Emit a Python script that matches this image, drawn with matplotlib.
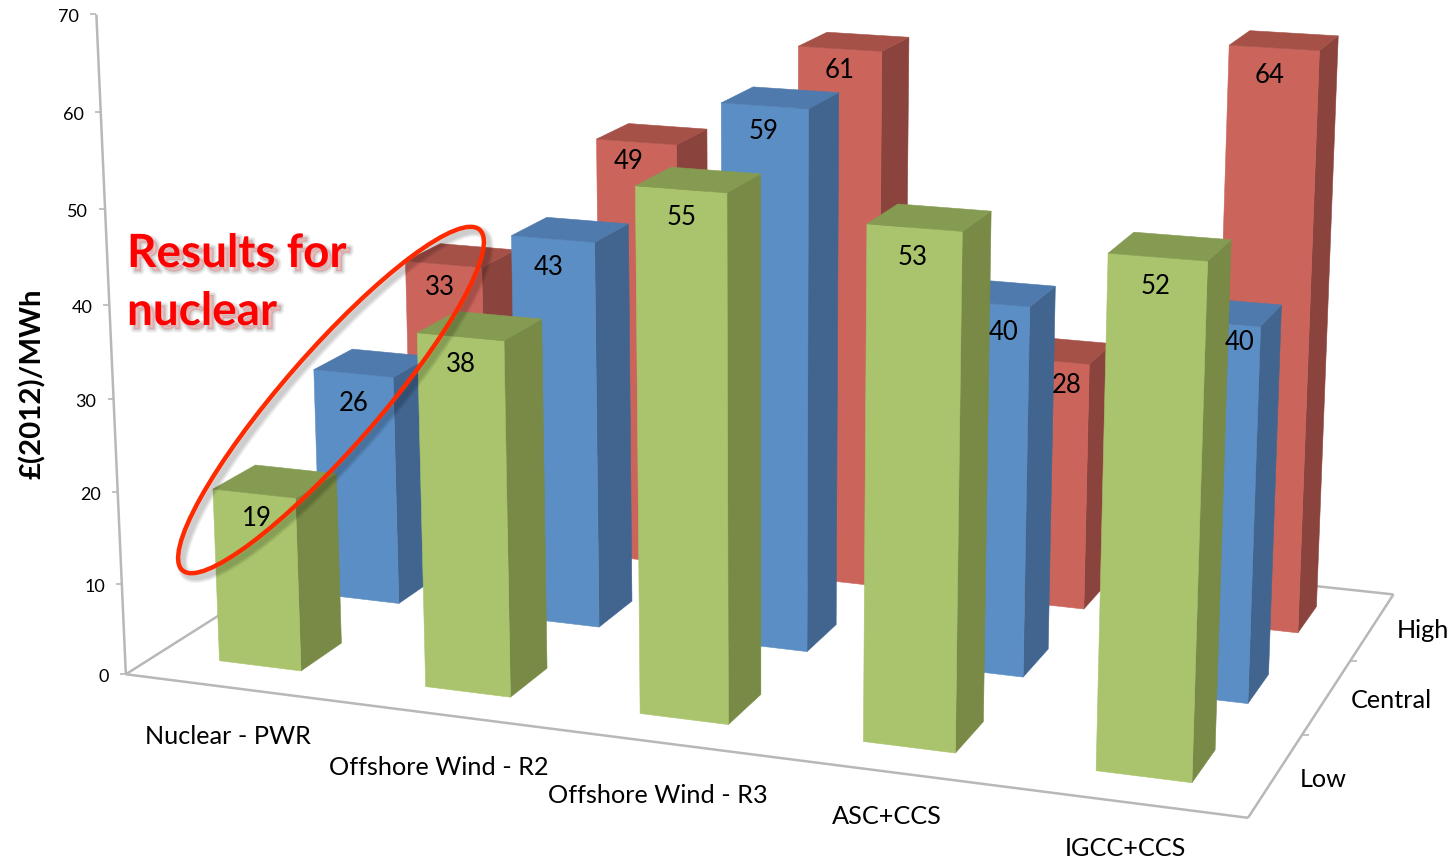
import numpy as np
import matplotlib
matplotlib.use('Agg')
import matplotlib.pyplot as plt
from matplotlib.patches import Ellipse
import matplotlib.patheffects as pe

plt.rcParams['font.family'] = ['Lato', 'DejaVu Sans']

categories = ['Nuclear - PWR', 'Offshore Wind - R2', 'Offshore Wind - R3', 'ASC+CCS', 'IGCC+CCS']
cases = ['Low', 'Central', 'High']
low = [19, 38, 55, 53, 52]
central = [26, 43, 59, 40, 40]
high = [33, 49, 61, 28, 64]
z_ticks = [0, 10, 20, 30, 40, 50, 60, 70]

# perspective view, (category, case, value) -> canvas pixels
camera = np.array([
    [199.97288930, 119.89630745, -0.48168194, 125.84706758],
    [12.67998954, -34.67101876, -9.43458566, 674.25528060],
    [-0.01960224, 0.05466371, -0.00062883, 1.00000000],
])


def project(x, y, z):
    h = camera @ np.array([x, y, z, 1.0])
    return h[0] / h[2], h[1] / h[2]


bar_gap = 0.3
front_colors = ['#A9C46C', '#5B8EC4', '#CB655B']
top_colors = ['#869B52', '#4F7AAD', '#A65148']
side_colors = ['#788A46', '#41658F', '#8B443D']
axis_color = '#B8B8B8'

# small hand placement of the value labels, one row per case
label_nudge = [
    [(2, 1), (0, 3), (0, 2), (-2, 3), (-1, 2)],
    [(0, 7), (-5, 5), (-1, 1), (19, 5), (27, -5)],
    [(-4, 1), (-8, -3), (0, -2), (20, 2), (-4, 3)],
]
category_drop = [49, 53, 53, 45, 46]

fig = plt.figure(figsize=(14.5, 8.61), dpi=100)
ax = fig.add_axes([0, 0, 1, 1])
ax.set_xlim(0, 1450)
ax.set_ylim(861, 0)
ax.axis('off')


def line(p, q, lw=1.8):
    ax.plot(*zip(p, q), color=axis_color, lw=lw, solid_capstyle='butt', zorder=1)


# floor outline and axes
line(project(0, 0, 0), project(5, 0, 0))
line(project(5, 0, 0), project(5, 3, 0))
line(project(5, 3, 0), project(0, 3, 0))
line(project(0, 3, 0), project(0, 0, 0))
line(project(0, 0, 0), project(0, 0, 70))

for t in z_ticks:
    px, py = project(0, 0, t)
    line((px - 6, py), (px, py), lw=1.2)
    ax.text(px - 17, py + 3, str(t), ha='right', va='center', fontsize=13, color='black')

for j in range(1, 3):
    px, py = project(5, j, 0)
    line((px, py), (px + 7, py), lw=1.2)

rows = [low, central, high]


def face(points, color, z):
    ax.fill([p[0] for p in points], [p[1] for p in points], facecolor=color,
            edgecolor=color, lw=0.4, zorder=z)


# back row first, left to right, so nearer bars cover the ones behind
order = 10
for j in [2, 1, 0]:
    for i, value in enumerate(rows[j]):
        x0, x1 = i + bar_gap, i + 1 - bar_gap
        y0, y1 = j + bar_gap, j + 1 - bar_gap
        face([project(x1, y0, 0), project(x1, y1, 0), project(x1, y1, value), project(x1, y0, value)],
             side_colors[j], order)
        face([project(x0, y0, 0), project(x1, y0, 0), project(x1, y0, value), project(x0, y0, value)],
             front_colors[j], order)
        face([project(x0, y0, value), project(x1, y0, value), project(x1, y1, value), project(x0, y1, value)],
             top_colors[j], order)
        order += 1

for j in range(3):
    for i, value in enumerate(rows[j]):
        px, py = project(i + 0.5, j + bar_gap, value - 2.6)
        dx, dy = label_nudge[j][i]
        ax.text(px + dx, py + dy, str(value), ha='center', va='center', fontsize=18.5,
                color='black', zorder=40)

for i, name in enumerate(categories):
    px, py = project(i + 0.5, 0, 0)
    ax.text(px, py + category_drop[i], name, ha='center', va='center', fontsize=18.2, color='black')

for j, name in enumerate(cases):
    px, py = project(5, j + 0.5, 0)
    ax.text(px + 24, py + 4, name, ha='left', va='center', fontsize=18.2, color='black')

ax.text(32, 384, '£(2012)/MWh', rotation=90, ha='center', va='center', fontsize=21.2,
        fontweight='bold', color='black')


def soft_shadow(width, offset=3):
    effects = [pe.Stroke(linewidth=width + w, foreground='black', alpha=0.05, offset=(offset, -offset))
               for w in (5, 3.5, 2, 0.5)]
    return effects + [pe.Normal()]


ring = Ellipse((331, 400), 452, 96, angle=-48.9, fill=False, edgecolor='#FF2A00', lw=3.2, zorder=50)
ring.set_path_effects(soft_shadow(3.2))
ax.add_patch(ring)

for label, ty in [('Results for', 254), ('nuclear', 312)]:
    ax.text(127, ty, label, ha='left', va='center', fontsize=33, fontweight='bold', color='#FF0000',
            zorder=60, path_effects=soft_shadow(0))

fig.savefig('out.png', dpi=100)
